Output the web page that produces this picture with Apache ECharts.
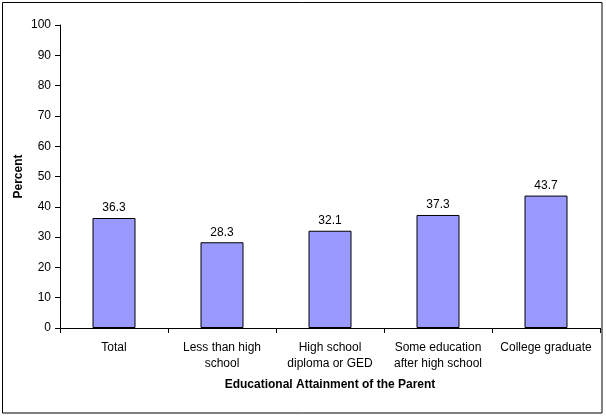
<!DOCTYPE html>
<html><head><meta charset="utf-8">
<script src="https://cdn.jsdelivr.net/npm/echarts@6/dist/echarts.min.js"></script>
<style>html,body{margin:0;padding:0;background:#fff}#c{width:606px;height:416px}</style>
</head><body><div id="c"></div>
<script>
const categories = ["Total", "Less than high\nschool", "High school\ndiploma or GED", "Some education\nafter high school", "College graduate"];
const values = [36.3, 28.3, 32.1, 37.3, 43.7];
const yTicks = [0, 10, 20, 30, 40, 50, 60, 70, 80, 90, 100];

const chart = echarts.init(document.getElementById('c'), null, {renderer: 'canvas'});
const font = 'Liberation Sans, Arial, sans-serif';
chart.setOption({
  animation: false,
  textStyle: {fontFamily: font},
  graphic: [{type: 'rect', shape: {x: 2.5, y: 2.5, width: 599.5, height: 410.5}, style: {fill: 'none', stroke: '#000', lineWidth: 1}}],
  grid: {left: 60, right: 6, top: 25, bottom: 88, containLabel: false, outerBoundsMode: 'none'},
  xAxis: {
    type: 'category', data: categories,
    axisLine: {lineStyle: {color: '#000', width: 1}},
    axisTick: {show: true, alignWithLabel: false, length: 5, lineStyle: {color: '#000'}},
    axisLabel: {color: '#000', fontSize: 12, fontFamily: font, margin: 12, lineHeight: 16, interval: 0},
    name: 'Educational Attainment of the Parent', nameLocation: 'middle', nameGap: 51, nameMoveOverlap: false,
    nameTextStyle: {color: '#000', fontWeight: 'bold', fontSize: 12, fontFamily: font}
  },
  yAxis: {
    type: 'value', min: 0, max: 100, interval: 10,
    splitLine: {show: false},
    axisLine: {show: true, lineStyle: {color: '#000', width: 1}},
    axisTick: {show: true, length: 5, lineStyle: {color: '#000'}},
    axisLabel: {color: '#000', fontSize: 12, fontFamily: font, margin: 9,
      formatter: v => yTicks.includes(v) ? String(v) : ''},
    name: 'Percent', nameLocation: 'middle', nameGap: 35, nameRotate: 90, nameMoveOverlap: false,
    nameTextStyle: {color: '#000', fontWeight: 'bold', fontSize: 12, fontFamily: font}
  },
  series: [{
    type: 'bar', data: values, barWidth: 43,
    itemStyle: {color: '#9999FF', borderColor: '#000', borderWidth: 1},
    label: {show: true, position: 'top', color: '#000', fontSize: 12, fontFamily: font, distance: 4,
      formatter: p => p.value.toFixed(1)}
  }]
});
</script></body></html>
